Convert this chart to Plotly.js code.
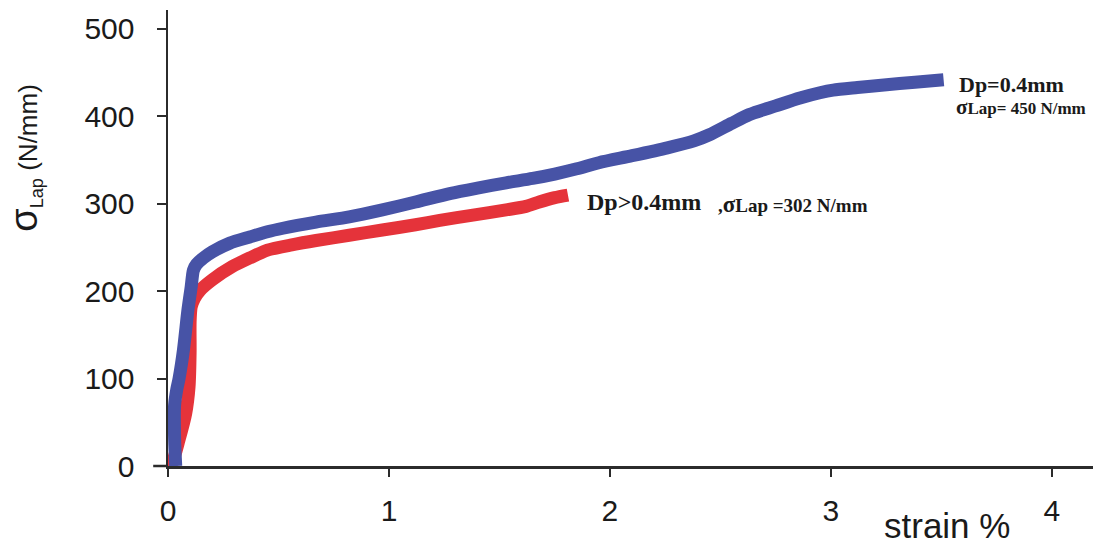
<!DOCTYPE html>
<html>
<head>
<meta charset="utf-8">
<script src="https://cdn.plot.ly/plotly-3.0.1.min.js"></script>
<style>html,body{margin:0;padding:0;background:#fff;}#chart{width:1120px;height:550px;}</style>
</head>
<body>
<div id="chart"></div>
<script>
// Dp = 0.4 mm (blue)
const strainBlue = [0.035,0.03,0.03,0.04,0.05,0.07,0.09,0.105,0.115,0.13,0.16,0.2,0.28,0.37,0.45,0.52,0.67,0.82,0.97,1.12,1.28,1.4,1.53,1.65,1.75,1.85,1.95,2.1,2.26,2.38,2.45,2.55,2.63,2.75,2.86,2.95,3.01,3.12,3.24,3.38,3.51];
const stressBlue = [0,30,70,88,100,133,178,205,224,231,238,245,255,262,268,272,279,285,293,302,312,318,324,329,334,340,347,355,364,372,379,392,402,412,421,427,430,433,436,439,442];
// Dp > 0.4 mm (red)
const strainRed = [0.0,0.02,0.05,0.08,0.095,0.1,0.1,0.105,0.12,0.145,0.2,0.29,0.37,0.45,0.56,0.67,0.82,0.97,1.12,1.23,1.38,1.53,1.62,1.68,1.75,1.81];
const stressRed = [0,5,30,60,90,130,165,182,192,201,213,228,238,247,253,258,264,270,276,281,287,293,297,302,307,310];
const xTicks = [0,1,2,3,4];
const yTicks = [0,100,200,300,400,500];

const traces = [
  {x: strainRed, y: stressRed, mode: 'lines', line: {color: '#e5333a', width: 13, shape: 'spline', smoothing: 0.7}, hoverinfo: 'skip'},
  {x: strainBlue, y: stressBlue, mode: 'lines', line: {color: '#4753a6', width: 13, shape: 'spline', smoothing: 0.7}, hoverinfo: 'skip'}
];

const tickFont = {family: 'Liberation Sans, Arial, sans-serif', size: 30, color: '#1a1a1a'};
const serif = 'Liberation Serif, Times New Roman, serif';

const layout = {
  width: 1120, height: 550,
  margin: {l: 168, r: 27, t: 10, b: 84},
  paper_bgcolor: '#fff', plot_bgcolor: '#fff',
  showlegend: false,
  xaxis: {
    range: [0, 4.186], tickvals: xTicks, ticktext: xTicks.map(String),
    showgrid: false, zeroline: false, showline: true, linecolor: '#2b2b2b', linewidth: 2.5,
    ticks: 'outside', ticklen: 8, tickwidth: 2, tickcolor: '#2b2b2b',
    tickfont: tickFont, ticklabelstandoff: 8
  },
  yaxis: {
    range: [0, 521.7], tickvals: yTicks, ticktext: yTicks.map(String),
    showgrid: false, zeroline: false, showline: true, linecolor: '#2b2b2b', linewidth: 2.5,
    ticks: 'outside', ticklen: 9, tickwidth: 2, tickcolor: '#2b2b2b',
    tickfont: tickFont, ticklabelstandoff: 16
  },
  shapes: [
    {type: 'line', xref: 'paper', yref: 'paper', x0: -0.016, x1: 0, y0: 0, y1: 0, line: {color: '#2b2b2b', width: 2.5}}
  ],
  annotations: [
    {xref: 'paper', yref: 'paper', x: -0.155, y: 0.675, xanchor: 'center', yanchor: 'middle', textangle: -90, showarrow: false,
     text: '<span style="font-size:38px">σ</span><sub>Lap</sub> (N/mm)',
     font: {family: 'Liberation Sans, Arial, sans-serif', size: 26, color: '#1a1a1a'}},
    {xref: 'paper', yref: 'paper', x: 0.842, y: -0.13, xanchor: 'center', yanchor: 'middle', showarrow: false,
     text: 'strain %', font: {family: 'Liberation Sans, Arial, sans-serif', size: 35, color: '#1a1a1a'}},
    {x: 3.57, y: 437, xanchor: 'left', yanchor: 'middle', showarrow: false,
     text: '<b>Dp=0.4mm</b>', font: {family: serif, size: 22, color: '#1a1a1a'}},
    {x: 3.555, y: 411, xanchor: 'left', yanchor: 'middle', showarrow: false,
     text: '<b><span style="font-size:21px">σ</span>Lap= 450 N/mm</b>', font: {family: serif, size: 17, color: '#1a1a1a'}},
    {x: 1.885, y: 302, xanchor: 'left', yanchor: 'middle', showarrow: false,
     text: '<b>Dp&gt;0.4mm</b>', font: {family: serif, size: 24, color: '#1a1a1a'}},
    {x: 2.48, y: 299, xanchor: 'left', yanchor: 'middle', showarrow: false,
     text: '<b>,<span style="font-size:23px">σ</span>Lap =302 N/mm</b>', font: {family: serif, size: 19, color: '#1a1a1a'}}
  ]
};

Plotly.newPlot('chart', traces, layout, {staticPlot: true, displayModeBar: false});
</script>
</body>
</html>
